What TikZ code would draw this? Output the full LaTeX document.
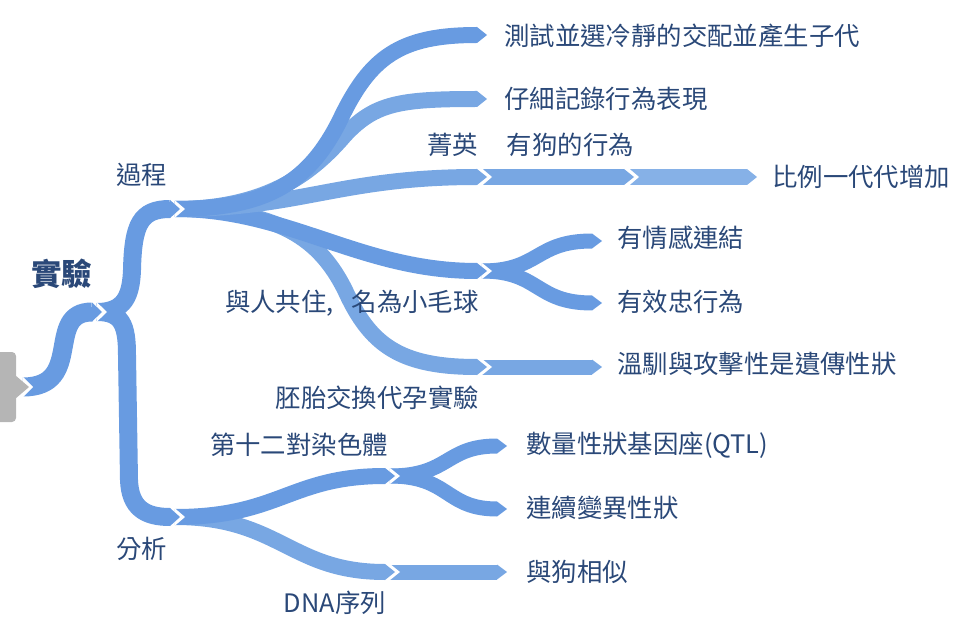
\documentclass[tikz,border=0pt]{standalone}
\usepackage{fontspec}
\newfontfamily\cjk{Noto Sans CJK TC}
\usetikzlibrary{calc}
\definecolor{bandA}{RGB}{104,155,225}
\definecolor{bandB}{RGB}{120,167,227}
\definecolor{bandC}{RGB}{134,177,231}
\definecolor{txt}{RGB}{42,72,120}
\definecolor{rootgrey}{RGB}{181,181,181}
\newcommand\tipat[3]{\fill[#1] ($(#2)+(0,#3/2)$) -- ($(#2)+(10,0)$) -- ($(#2)+(0,-#3/2)$) -- cycle;}
\newcommand\notchat[2]{\fill[white] ($(#1)+(0,#2/2+0.6)$) -- ($(#1)+(10,0)$) -- ($(#1)+(0,-#2/2-0.6)$) -- cycle;}
\begin{document}
\begin{tikzpicture}[x=1pt,y=-1pt,
  lbl/.style={font=\cjk\fontsize{25.4}{30}\selectfont, text=txt, inner sep=0pt},
  mainlbl/.style={font=\cjk\bfseries\fontsize{30.5}{34}\selectfont, text=txt, inner sep=0pt},
  band/.style={line width=#1, line cap=butt}]
\useasboundingbox (0,0) rectangle (980,631);
% coordinates
\coordinate (S0) at (23,387);  \coordinate (E0) at (92,312);
\coordinate (S1) at (97,312);  \coordinate (E1) at (170,209); \coordinate (E2) at (170,517);
\coordinate (S3) at (175,209);
\coordinate (Ea) at (477,35);  \coordinate (Eb) at (477,99);  \coordinate (Ec) at (477,177);
\coordinate (Ed) at (477,271); \coordinate (Ee) at (477,367);
\coordinate (Sc2) at (482,177); \coordinate (Ec2) at (624,177);
\coordinate (Sc3) at (629,177); \coordinate (Ec3) at (747,177);
\coordinate (Sd) at (482,271); \coordinate (Ed1) at (592,241); \coordinate (Ed2) at (592,303);
\coordinate (Se) at (482,367); \coordinate (Ee2) at (592,367);
\coordinate (S4) at (175,517);
\coordinate (Ef) at (385,476); \coordinate (Eg) at (385,572);
\coordinate (Sf) at (390,476); \coordinate (Ef1) at (497,446); \coordinate (Ef2) at (497,509);
\coordinate (Sg) at (390,572); \coordinate (Eg2) at (497,572);
% bands
\draw[band=19pt, bandA] (S0) .. controls (85,387) and (44,312) .. (E0);
\draw[band=18pt, bandA] (S1) .. controls (122,312) and (127,325) .. (127,355) -- (129,480) .. controls (130,508) and (145,517) .. (E2);
\draw[band=18pt, bandA] (S1) .. controls (125,312) and (131,295) .. (132,270) .. controls (133,225) and (140,209) .. (E1);
\draw[band=16pt, bandB] (S3) .. controls (280,209) and (320,240) .. (345,290) .. controls (370,345) and (400,367) .. (Ee);
\draw[band=16pt, bandA] (S3) .. controls (290,209) and (360,271) .. (Ed);
\draw[band=16pt, bandB] (S3) .. controls (300,209) and (340,177) .. (Ec);
\draw[band=16pt, bandB] (S3) .. controls (270,209) and (315,170) .. (345,135) .. controls (375,103) and (400,99) .. (Eb);
\draw[band=16pt, bandA] (S3) .. controls (270,209) and (310,180) .. (340,120) .. controls (370,57) and (400,35) .. (Ea);
\draw[band=16pt, bandB] (Sc2) -- (Ec2);
\draw[band=16pt, bandC] (Sc3) -- (Ec3);
\draw[band=15pt, bandA] (Sd) .. controls (540,271) and (535,241) .. (Ed1);
\draw[band=15pt, bandA] (Sd) .. controls (540,271) and (535,303) .. (Ed2);
\draw[band=15pt, bandB] (Se) -- (Ee2);
\draw[band=16pt, bandB] (S4) .. controls (280,517) and (290,572) .. (Eg);
\draw[band=16pt, bandA] (S4) .. controls (280,517) and (290,476) .. (Ef);
\draw[band=15pt, bandA] (Sf) .. controls (450,476) and (445,446) .. (Ef1);
\draw[band=15pt, bandA] (Sf) .. controls (450,476) and (445,509) .. (Ef2);
\draw[band=15pt, bandB] (Sg) -- (Eg2);
% notches
\notchat{S0}{19}
\notchat{S1}{18}
\notchat{S3}{16}
\notchat{Sc2}{16}
\notchat{Sc3}{16}
\notchat{Sd}{15}
\notchat{Se}{15}
\notchat{S4}{16}
\notchat{Sf}{15}
\notchat{Sg}{15}
% root
\fill[rootgrey, rounded corners=4pt] (-10,352) rectangle (16,422);
\fill[rootgrey] (15,375) -- (29,387) -- (15,399) -- cycle;
% tips
\tipat{bandA}{E0}{19}
\tipat{bandA}{E1}{18}
\tipat{bandA}{E2}{18}
\tipat{bandA}{Ea}{16}
\tipat{bandB}{Eb}{16}
\tipat{bandB}{Ec}{16}
\tipat{bandA}{Ed}{16}
\tipat{bandB}{Ee}{16}
\tipat{bandB}{Ec2}{16}
\tipat{bandC}{Ec3}{16}
\tipat{bandA}{Ed1}{15}
\tipat{bandA}{Ed2}{15}
\tipat{bandB}{Ee2}{15}
\tipat{bandA}{Ef}{16}
\tipat{bandB}{Eg}{16}
\tipat{bandA}{Ef1}{15}
\tipat{bandA}{Ef2}{15}
\tipat{bandB}{Eg2}{15}
% labels
\node[mainlbl, anchor=west] (shiyan) at (31,274) {實驗};
\node[lbl, anchor=west] (guocheng) at (116,175) {過程};
\node[lbl, anchor=west] (fenxi) at (116,549) {分析};
\node[lbl, anchor=west] (ta) at (504,36) {測試並選冷靜的交配並產生子代};
\node[lbl, anchor=west] (tb) at (504,99) {仔細記錄行為表現};
\node[lbl, anchor=east] (tc) at (478,145) {菁英};
\node[lbl, anchor=east] (tc2) at (634,145) {有狗的行為};
\node[lbl, anchor=west] (tc3) at (772,177) {比例一代代增加};
\node[lbl, anchor=west] (td1) at (617,238) {有情感連結};
\node[lbl, anchor=west] (td2) at (617,302) {有效忠行為};
\node[lbl, anchor=east] (td) at (479,303) {與人共住,\hspace{18pt}名為小毛球};
\node[lbl, anchor=west] (te2) at (617,364) {溫馴與攻擊性是遺傳性狀};
\node[lbl, anchor=east] (te) at (479,398) {胚胎交換代孕實驗};
\node[lbl, anchor=east] (tf) at (388,445) {第十二對染色體};
\node[lbl, anchor=west] (tf1) at (526,445) {數量性狀基因座(QTL)};
\node[lbl, anchor=west] (tf2) at (526,508) {連續變異性狀};
\node[lbl, anchor=west] (tg2) at (526,572) {與狗相似};
\node[lbl, anchor=east] (tg) at (386,603) {DNA序列};
\end{tikzpicture}
\end{document}
